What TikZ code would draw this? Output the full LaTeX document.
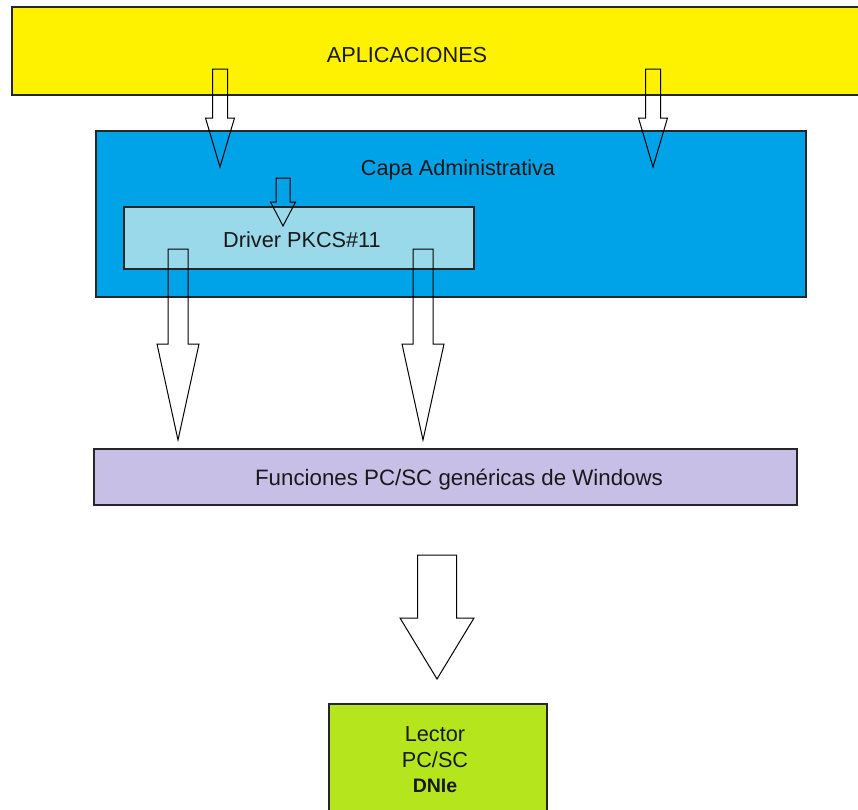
\documentclass[tikz,border=0pt]{standalone}
\usepackage{fontspec}
\setmainfont{Liberation Sans}
\usetikzlibrary{calc}
\definecolor{appyellow}{RGB}{255,242,0}
\definecolor{adminblue}{RGB}{0,162,232}
\definecolor{driverblue}{RGB}{153,217,234}
\definecolor{pcscpurple}{RGB}{200,191,231}
\definecolor{readergreen}{RGB}{181,230,29}
\tikzset{
  layer/.style={draw=black!85, line width=1.2pt, anchor=north west,
    inner sep=0pt, outer sep=0pt},
  edge/.style={draw=black!85, line width=1.2pt},
  txt/.style={font=\fontsize{21.7}{25.5}\selectfont, text=black!90, inner sep=0pt},
  hollow/.style={draw=black, line width=1pt, line join=miter}
}
\newcommand{\blockarrow}[5]{%
  \draw[hollow] let \p1=(#1), \p2=(#2) in
    (\x1-#3,\y1) -- (\x1-#3,\y2+#5) -- (\x1-#4,\y2+#5) -- (\x2,\y2)
    -- (\x1+#4,\y2+#5) -- (\x1+#3,\y2+#5) -- (\x1+#3,\y1) -- cycle;}
\begin{document}
\begin{tikzpicture}[x=1pt,y=-1pt]
      \useasboundingbox (0,0) rectangle (858,809);
      \node[layer, draw=none, fill=appyellow, minimum width=846pt, minimum height=88pt]
        (apps) at (12,7) {};
      \draw[edge] (apps.north east) -- (apps.north west)
        -- (apps.south west) -- (apps.south east);
      \node[layer, fill=adminblue, minimum width=710pt, minimum height=166pt]
        (admin) at (96,131) {};
      \node[layer, fill=driverblue, minimum width=350pt, minimum height=62pt]
        (driver) at (124,207) {};
      \node[layer, fill=pcscpurple, minimum width=703pt, minimum height=56pt]
        (pcsc) at (94,449) {};
      \node[layer, fill=readergreen, minimum width=218pt, minimum height=112pt]
        (reader) at (329,704) {};
      \draw
        (407,62) node[txt, anchor=base] (appstext){APLICACIONES}
        (458,175) node[txt, anchor=base] (admintext){Capa Administrativa}
        (302,247) node[txt, anchor=base] (drivertext){Driver PKCS\#11}
        (459,485) node[txt, anchor=base, font=\fontsize{22.3}{25.5}\selectfont]
          (pcsctext){Funciones PC/SC genéricas de Windows}
        (435,760) node[txt, align=center] (readertext)
          {Lector\\PC/SC\\{\bfseries\fontsize{19.5}{25.5}\selectfont DNIe}};
      \coordinate (a1top) at (220,69);  \coordinate (a1tip) at (220,167);
      \coordinate (a2top) at (653,69);  \coordinate (a2tip) at (653,167);
      \coordinate (a3top) at (283,178); \coordinate (a3tip) at (283,226);
      \coordinate (a4top) at (178,249); \coordinate (a4tip) at (178,440);
      \coordinate (a5top) at (423,249); \coordinate (a5tip) at (423,440);
      \coordinate (a6top) at (437,555); \coordinate (a6tip) at (437,679);
      \blockarrow{a1top}{a1tip}{7.5pt}{14.5pt}{49pt}
      \blockarrow{a2top}{a2tip}{7.5pt}{14.5pt}{49pt}
      \blockarrow{a3top}{a3tip}{7pt}{12.5pt}{24pt}
      \blockarrow{a4top}{a4tip}{10pt}{21pt}{96pt}
      \blockarrow{a5top}{a5tip}{10pt}{21pt}{96pt}
      \blockarrow{a6top}{a6tip}{19.5pt}{37pt}{61pt}
    \end{tikzpicture}
\end{document}
